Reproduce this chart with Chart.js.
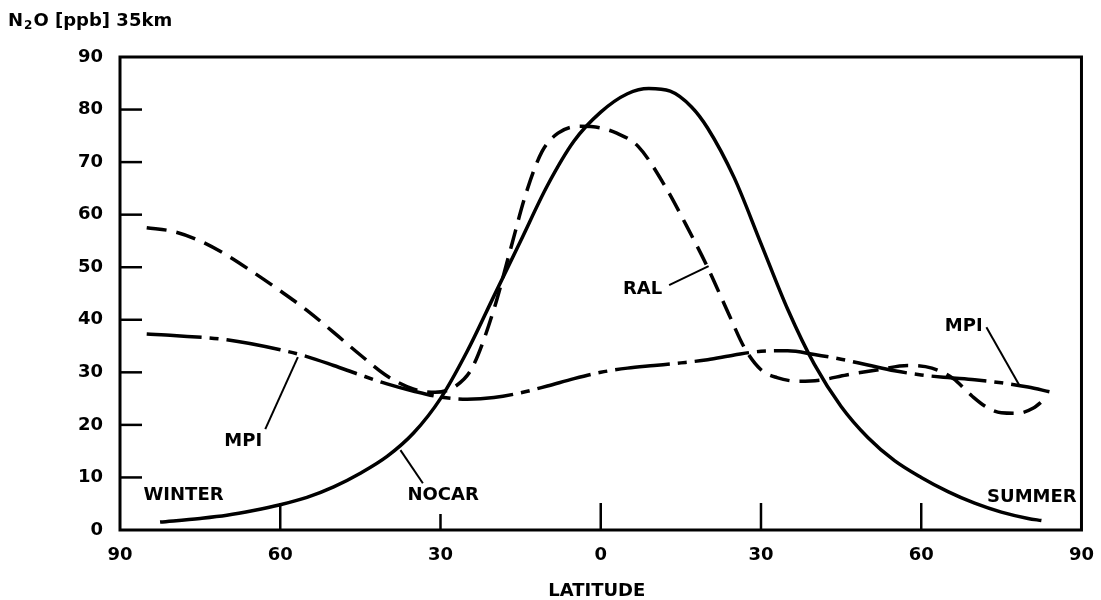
<!DOCTYPE html>
<html><head><meta charset="utf-8">
<script src="https://cdn.jsdelivr.net/npm/chart.js@4.4.1/dist/chart.umd.min.js"></script>
<style>html,body{margin:0;padding:0;background:#fff;}#wrap{width:1101px;height:600px;position:relative;}canvas{display:block;}</style>
</head><body><div id="wrap"><canvas id="c" width="1101" height="600" style="width:1101px;height:600px"></canvas></div>
<script>
// ---- data (latitude: negative = winter hemisphere, positive = summer) ----
const nocarLat = [-82.5,-75,-70,-65,-60,-55,-50,-45,-40,-35,-30,-25,-20,-15,-10,-5,0,5,9,13,17,20,25,30,35,40,45,50,55,60,65,70,75,80,82.5];
const nocarVal = [1.5,2.2,2.8,3.7,4.8,6.2,8.2,10.8,14,18.5,25,34,44.5,55,65.5,74,79.5,83,84,83.5,80.5,76.5,67,54.5,42,31.5,23.5,17.6,13.2,10,7.3,5.1,3.4,2.2,1.8];
const ralLat = [-85,-80,-75,-70,-65,-60,-55,-50,-45,-40,-35,-31,-27,-24,-20,-17,-14,-11,-8,-4,0,3,7,12,16,20,24,27,30,33,37,41,46,52,57.5,62,66,69.5,72.5,75,78,81,83];
const ralVal = [57.5,56.8,55,52.3,49,45.5,41.8,37.6,33.3,29.3,26.8,26.2,27.5,31,42,53,64,72,75.5,76.8,76.5,75.5,73,65.5,58,50,41,34.5,30.5,29,28.3,28.5,29.5,30.5,31.3,30.8,28.8,25.5,23.2,22.3,22.2,23.2,24.8];
const mpiLat = [-85,-80,-70,-60,-55,-50,-45,-40,-35,-30,-25,-20,-15,-10,-5,0,5,10,15,20,25,30,35,40,45,50,55,60,65,70,75,80,84];
const mpiVal = [37.3,37,36.2,34.3,33,31.3,29.5,27.8,26.4,25.3,24.9,25.2,26.1,27.4,28.8,30,30.8,31.3,31.8,32.4,33.3,34,34.1,33.4,32.5,31.4,30.3,29.5,29,28.6,28,27.2,26.3];

const xTickValues = [-90,-60,-30,0,30,60,90];
const xInnerTicks = [-60,-30,0,30,60];
const yInnerTicks = [10,20,30,40,50,60,70,80];
const titleText = ['N','2','O [ppb] 35km'];
const xTitle = 'LATITUDE';
// text labels placed in data coordinates [text, lat, value, align]
const labels = [
  ['WINTER', -85.6, 6.6, 'left'],
  ['SUMMER', 89.1, 6.3, 'right'],
  ['NOCAR', -29.5, 6.6, 'center'],
  ['RAL', 11.5, 45.8, 'right'],
  ['MPI', -63.4, 16.9, 'right'],
  ['MPI', 71.5, 38.8, 'right']
];
// pointer lines [lat1, v1, lat2, v2]
const pointers = [
  [-37.5, 15.2, -33.3, 8.9],
  [12.8, 46.6, 20.2, 50.2],
  [-62.8, 19.2, -56.7, 32.9],
  [72.2, 38.6, 78.5, 27.3]
];

const pts = (xs, ys) => xs.map((x, i) => ({x: x, y: ys[i]}));
const FONT = '"DejaVu Sans", sans-serif';
Chart.defaults.font.family = FONT;
Chart.defaults.font.weight = 'bold';
Chart.defaults.font.size = 18;
Chart.defaults.color = '#000';

const framePlugin = {
  id: 'frame',
  afterDraw(chart) {
    const ctx = chart.ctx, a = chart.chartArea, xs = chart.scales.x, ys = chart.scales.y;
    ctx.save();
    ctx.strokeStyle = '#000';
    ctx.lineCap = 'butt';
    ctx.lineWidth = 3;
    ctx.strokeRect(a.left, a.top, a.right - a.left, a.bottom - a.top);
    ctx.lineWidth = 2.5;
    yInnerTicks.forEach(v => {
      const py = ys.getPixelForValue(v);
      ctx.beginPath(); ctx.moveTo(a.left, py); ctx.lineTo(a.left + 22, py); ctx.stroke();
    });
    xInnerTicks.forEach(v => {
      const px = xs.getPixelForValue(v);
      const len = v === -30 ? 16 : 27;
      ctx.beginPath(); ctx.moveTo(px, a.bottom); ctx.lineTo(px, a.bottom - len); ctx.stroke();
    });
    ctx.lineWidth = 2;
    pointers.forEach(p => {
      ctx.beginPath();
      ctx.moveTo(xs.getPixelForValue(p[0]), ys.getPixelForValue(p[1]));
      ctx.lineTo(xs.getPixelForValue(p[2]), ys.getPixelForValue(p[3]));
      ctx.stroke();
    });
    ctx.fillStyle = '#000';
    ctx.font = 'bold 18px ' + FONT;
    ctx.textBaseline = 'middle';
    labels.forEach(l => {
      ctx.textAlign = l[3];
      ctx.fillText(l[0], xs.getPixelForValue(l[1]), ys.getPixelForValue(l[2]));
    });
    // axis title
    ctx.textAlign = 'center';
    ctx.fillText(xTitle, (a.left + a.right) / 2 - 4, 591);
    // chart title with subscript
    ctx.textAlign = 'left';
    ctx.textBaseline = 'alphabetic';
    let tx = 8;
    ctx.font = 'bold 18px ' + FONT;
    ctx.fillText(titleText[0], tx, 26); tx += ctx.measureText(titleText[0]).width + 1;
    ctx.font = 'bold 12px ' + FONT;
    ctx.fillText(titleText[1], tx, 29); tx += ctx.measureText(titleText[1]).width + 1;
    ctx.font = 'bold 18px ' + FONT;
    ctx.fillText(titleText[2], tx, 26);
    ctx.restore();
  }
};

new Chart(document.getElementById('c'), {
  type: 'line',
  data: {
    datasets: [
      {label: 'NOCAR', data: pts(nocarLat, nocarVal), borderColor: '#000', borderWidth: 3.5, pointRadius: 0, cubicInterpolationMode: 'monotone', fill: false},
      {label: 'RAL', data: pts(ralLat, ralVal), borderColor: '#000', borderWidth: 3.5, borderDash: [20, 10], pointRadius: 0, cubicInterpolationMode: 'monotone', fill: false},
      {label: 'MPI', data: pts(mpiLat, mpiVal), borderColor: '#000', borderWidth: 3.5, borderDash: [55, 8, 9, 8], pointRadius: 0, cubicInterpolationMode: 'monotone', fill: false}
    ]
  },
  options: {
    responsive: false,
    maintainAspectRatio: false,
    animation: false,
    devicePixelRatio: 1,
    layout: {padding: {top: 57, right: 5, left: 0, bottom: 0}},
    plugins: {legend: {display: false}, title: {display: false}, tooltip: {enabled: false}},
    scales: {
      x: {
        type: 'linear', min: -90, max: 90,
        afterBuildTicks: s => { s.ticks = xTickValues.map(v => ({value: v})); },
        afterFit: s => { s.height = 70; },
        grid: {display: false}, border: {display: false},
        ticks: {padding: 7, maxRotation: 0, autoSkip: false, callback: v => String(Math.abs(v)), font: {size: 18, weight: 'bold'}}
      },
      y: {
        min: 0, max: 90,
        ticks: {stepSize: 10, padding: 9, font: {size: 18, weight: 'bold'}},
        afterFit: s => { s.width = 120; },
        grid: {display: false}, border: {display: false}
      }
    }
  },
  plugins: [framePlugin]
});
</script></body></html>
